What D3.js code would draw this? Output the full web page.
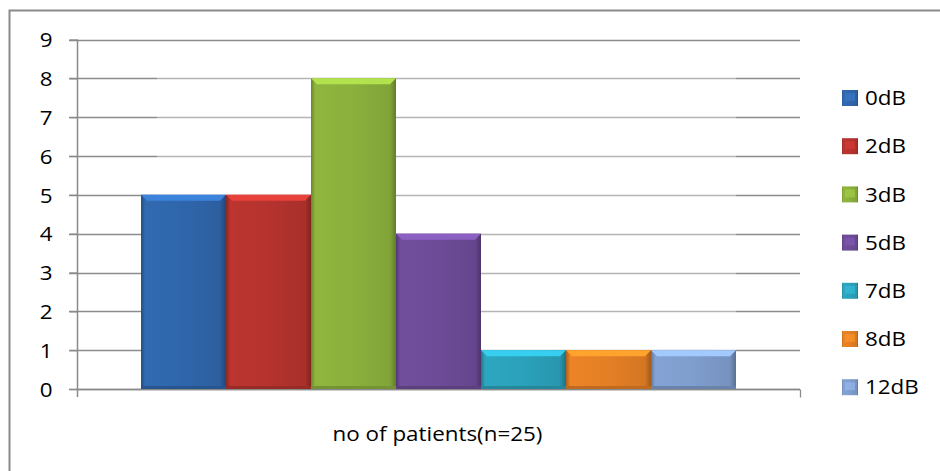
<!DOCTYPE html>
<html>
<head>
<meta charset="utf-8">
<script src="https://cdn.jsdelivr.net/npm/d3@7/dist/d3.min.js"></script>
<style>
  html, body { margin: 0; padding: 0; background: #fff; }
  svg { display: block; font-family: "Open Sans", "Noto Sans", sans-serif; }
</style>
</head>
<body>
<svg id="chart" width="940" height="471"></svg>
<script>
// Hearing threshold groups and number of patients in each
const category = "no of patients(n=25)";
const series = ["0dB", "2dB", "3dB", "5dB", "7dB", "8dB", "12dB"];
const values = [5, 5, 8, 4, 1, 1, 1];
const colors = ["#2f66ab", "#b5332e", "#8bb03c", "#6d4b97", "#2ba1ba", "#e47f25", "#7f9dcd"];
const yTicks = [0, 1, 2, 3, 4, 5, 6, 7, 8, 9];

const svg = d3.select("#chart");
const FONT = 20;
const SX = 1.12; // horizontal text stretch

// outer chart frame
svg.append("rect")
  .attr("x", 9.5).attr("y", 10.5)
  .attr("width", 940).attr("height", 480)
  .attr("fill", "#fff").attr("stroke", "#8a8a8a").attr("stroke-width", 2);

const plotL = 77, plotR = 800, plotT = 39.5, plotB = 389;

const y = d3.scaleLinear().domain([0, 9]).range([plotB, plotT]);
const x0 = d3.scaleBand().domain([category]).range([plotL, plotR]).paddingOuter(0.1076);
const x1 = d3.scaleBand().domain(series).range([x0(category), x0(category) + x0.bandwidth()]);

const defs = svg.append("defs");
series.forEach((s, i) => {
  const c = d3.color(colors[i]);
  const g = defs.append("linearGradient").attr("id", "g" + i)
    .attr("x1", 0).attr("x2", 1).attr("y1", 0).attr("y2", 0);
  g.append("stop").attr("offset", "0").attr("stop-color", c.darker(0.8));
  g.append("stop").attr("offset", "0.05").attr("stop-color", c.brighter(0.1));
  g.append("stop").attr("offset", "0.5").attr("stop-color", c);
  g.append("stop").attr("offset", "0.93").attr("stop-color", c.darker(0.2));
  g.append("stop").attr("offset", "1").attr("stop-color", c.darker(1));
});

// horizontal gridlines
svg.append("g").selectAll("line").data(yTicks).join("line")
  .attr("x1", plotL - 8).attr("x2", plotR)
  .attr("y1", d => Math.round(y(d)) + 0.5).attr("y2", d => Math.round(y(d)) + 0.5)
  .attr("stroke", "#8c8c8c").attr("stroke-width", 1.3);

// pale back wall behind the bars
svg.append("rect")
  .attr("x", x0(category) + 16).attr("y", y(8) - 2)
  .attr("width", x0.bandwidth() - 16).attr("height", plotB - y(8) + 1)
  .attr("fill", "#fff").attr("opacity", 0.35);

// y axis
const yAxis = svg.append("g").attr("transform", `translate(${plotL + 0.5},0)`)
  .call(d3.axisLeft(y).tickValues(yTicks).tickSize(8).tickPadding(17).tickFormat(d3.format("d")));
yAxis.select(".domain").attr("d", `M0,${plotT}V${plotB + 8}`).attr("stroke", "#8a8a8a").attr("stroke-width", 1.5);
yAxis.selectAll(".tick line").attr("stroke", "#8a8a8a").attr("stroke-width", 1.3);
yAxis.selectAll(".tick text")
  .attr("font-size", FONT).attr("fill", "#000")
  .attr("font-family", "'Open Sans', sans-serif")
  .attr("x", -25 / SX).attr("dy", "0.36em")
  .attr("transform", `scale(${SX},1)`);

// x axis
const xAxis = svg.append("g").attr("transform", `translate(0,${Math.round(plotB) + 0.5})`)
  .call(d3.axisBottom(d3.scaleLinear().domain([0, 1]).range([plotL, plotR])).tickValues([1]).tickSize(8).tickFormat(""));
xAxis.select(".domain").attr("d", `M${plotL},0H${plotR}`).attr("stroke", "#8a8a8a").attr("stroke-width", 1.5);
xAxis.selectAll(".tick line").attr("stroke", "#8a8a8a").attr("stroke-width", 1.3);

// bars
const bars = svg.append("g").selectAll("g").data(series).join("g");
bars.append("rect")
  .attr("x", d => x1(d))
  .attr("y", (d, i) => y(values[i]))
  .attr("width", x1.bandwidth())
  .attr("height", (d, i) => plotB - y(values[i]))
  .attr("fill", (d, i) => `url(#g${i})`);
// bevelled top edge
bars.append("path")
  .attr("d", (d, i) => {
    const xl = x1(d), xr = x1(d) + x1.bandwidth(), yt = y(values[i]);
    return `M${xl},${yt}H${xr}L${xr - 6},${yt + 6}H${xl + 6}Z`;
  })
  .attr("fill", (d, i) => d3.color(colors[i]).brighter(0.7));
// darker bottom edge
bars.append("rect")
  .attr("x", d => x1(d)).attr("y", plotB - 3)
  .attr("width", x1.bandwidth()).attr("height", 3)
  .attr("fill", (d, i) => d3.color(colors[i]).darker(0.5));

// category label
svg.append("text")
  .attr("transform", `translate(${x0(category) + x0.bandwidth() / 2 - 1},441) scale(${SX},1)`)
  .attr("text-anchor", "middle").attr("font-size", FONT).attr("fill", "#000")
  .text(category);

// legend
const legend = svg.append("g").selectAll("g").data(series).join("g")
  .attr("transform", (d, i) => `translate(842,${98 + i * 48.2})`);
legend.append("rect")
  .attr("x", 0).attr("y", -8).attr("width", 16).attr("height", 16)
  .attr("fill", (d, i) => `url(#g${i})`);
legend.append("rect")
  .attr("x", 3).attr("y", -5).attr("width", 10).attr("height", 8)
  .attr("fill", (d, i) => d3.color(colors[i]).brighter(0.5)).attr("opacity", 0.6);
legend.append("text")
  .attr("transform", `translate(23,0) scale(${SX},1)`)
  .attr("dy", "0.36em")
  .attr("font-size", FONT).attr("fill", "#000")
  .text(d => d);
</script>
</body>
</html>
